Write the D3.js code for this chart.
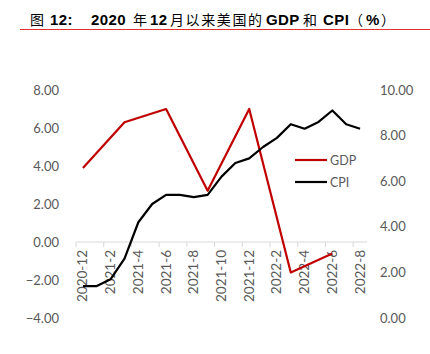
<!DOCTYPE html>
<html>
<head>
<meta charset="utf-8">
<style>
    body { margin: 0; background: #fff; }
    svg { display: block; }
    .title { font-family: 'Liberation Sans', 'Noto Sans CJK SC', sans-serif; font-size: 15px; fill: #000; }
    .title .lat { font-weight: bold; }
    .title .cjk { font-family: 'Noto Sans CJK SC', sans-serif; font-size: 14px; }
    .tick text { font-family: Lato, 'Open Sans', sans-serif; font-size: 13px; fill: #595959; }
    .legend text { font-family: Lato, 'Open Sans', sans-serif; font-size: 12.5px; fill: #595959; }
</style>
</head>
<body>
<svg width="430" height="354"></svg>
<script src="https://d3js.org/d3.v7.min.js"></script>
<script>
    let months = ["2020-12", "2021-1", "2021-2", "2021-3", "2021-4", "2021-5", "2021-6", "2021-7",
        "2021-8", "2021-9", "2021-10", "2021-11", "2021-12", "2022-1", "2022-2", "2022-3",
        "2022-4", "2022-5", "2022-6", "2022-7", "2022-8"]

    // GDP is quarterly, blank in between
    let gdp = [3.9, null, null, 6.3, null, null, 7.0, null, null, 2.7, null, null, 7.0,
        null, null, -1.6, null, null, -0.6, null, null]

    let cpi = [1.4, 1.4, 1.7, 2.6, 4.2, 5.0, 5.4, 5.4, 5.3, 5.4, 6.2, 6.8, 7.0, 7.5, 7.9,
        8.5, 8.3, 8.6, 9.1, 8.5, 8.3]

    let leftTicks = [-4, -2, 0, 2, 4, 6, 8]
    let rightTicks = [0, 2, 4, 6, 8, 10]
    let xLabels = months.filter((d, i) => i % 2 == 0)

    let titleParts = [
        {t: "图", c: "cjk", x: 30},
        {t: "12:", c: "lat", x: 50},
        {t: "2020", c: "lat", x: 91},
        {t: "年", c: "cjk", x: 133},
        {t: "12", c: "lat", x: 150},
        {t: "月以来美国的", c: "cjk", x: 170},
        {t: "GDP", c: "lat", x: 266},
        {t: "和", c: "cjk", x: 303},
        {t: "CPI", c: "lat", x: 323},
        {t: "（", c: "cjk", x: 349},
        {t: "%", c: "lat", x: 366},
        {t: "）", c: "cjk", x: 381}
    ]

    let svg = d3.select("svg")

    // title + red rule
    svg.append("text")
        .attr("class", "title")
        .attr("y", 25)
        .selectAll("tspan")
        .data(titleParts)
        .join("tspan")
        .attr("class", d => d.c)
        .attr("x", d => d.x)
        .attr("letter-spacing", d => d.c == "cjk" ? 1.6 : 0.4)
        .text(d => d.t)

    svg.append("line")
        .attr("x1", 20).attr("x2", 430)
        .attr("y1", 29.5).attr("y2", 29.5)
        .attr("stroke", "#e03030")
        .attr("stroke-width", 1)

    let x = d3.scaleBand()
        .domain(months)
        .range([76, 367])

    let yL = d3.scaleLinear()
        .domain([-4, 8])
        .range([318, 90])

    let yR = d3.scaleLinear()
        .domain([0, 10])
        .range([318, 90])

    // left axis
    svg.append("g")
        .attr("transform", "translate(62,0)")
        .call(d3.axisLeft(yL).tickValues(leftTicks).tickSize(0).tickPadding(3).tickFormat(d3.format(".2f")))
        .call(g => g.select(".domain").remove())

    // right axis
    svg.append("g")
        .attr("transform", "translate(377,0)")
        .call(d3.axisRight(yR).tickValues(rightTicks).tickSize(0).tickPadding(3).tickFormat(d3.format(".2f")))
        .call(g => g.select(".domain").remove())

    // x axis at zero of left axis
    let xAxis = svg.append("g")
        .attr("transform", `translate(0,${yL(0)})`)

    xAxis.append("line")
        .attr("x1", x.range()[0]).attr("x2", x.range()[1])
        .attr("stroke", "#d9d9d9")

    xAxis.selectAll(".tk")
        .data(xLabels)
        .join("line")
        .attr("x1", d => x(d)).attr("x2", d => x(d))
        .attr("y1", 0).attr("y2", 5)
        .attr("stroke", "#d9d9d9")

    xAxis.selectAll(".lbl")
        .data(xLabels)
        .join("text")
        .attr("class", "lbl")
        .attr("transform", d => `translate(${x(d) + x.bandwidth() / 2 + 4.5},8) rotate(-90)`)
        .attr("text-anchor", "end")
        .style("font-family", "Lato, 'Open Sans', sans-serif")
        .style("font-size", "13.5px")
        .attr("fill", "#595959")
        .text(d => d)

    let cx = d => x(d) + x.bandwidth() / 2

    let gdpPts = months.map((m, i) => ({m: m, v: gdp[i]})).filter(d => d.v != null)
    let cpiPts = months.map((m, i) => ({m: m, v: cpi[i]}))

    svg.append("path")
        .datum(gdpPts)
        .attr("fill", "none")
        .attr("stroke", "#c00000")
        .attr("stroke-width", 2.2)
        .attr("stroke-linejoin", "round")
        .attr("d", d3.line().x(d => cx(d.m)).y(d => yL(d.v)))

    svg.append("path")
        .datum(cpiPts)
        .attr("fill", "none")
        .attr("stroke", "#000")
        .attr("stroke-width", 2.2)
        .attr("stroke-linejoin", "round")
        .attr("d", d3.line().x(d => cx(d.m)).y(d => yR(d.v)))

    // legend
    let legend = svg.append("g").attr("class", "legend")
    let items = [{name: "GDP", color: "#c00000"}, {name: "CPI", color: "#000"}]

    legend.selectAll("line")
        .data(items)
        .join("line")
        .attr("x1", 295).attr("x2", 327)
        .attr("y1", (d, i) => 160 + i * 22).attr("y2", (d, i) => 160 + i * 22)
        .attr("stroke", d => d.color)
        .attr("stroke-width", 2.2)

    legend.selectAll("text")
        .data(items)
        .join("text")
        .attr("x", 330)
        .attr("y", (d, i) => 164.5 + i * 22)
        .text(d => d.name)
</script>
</body>
</html>
